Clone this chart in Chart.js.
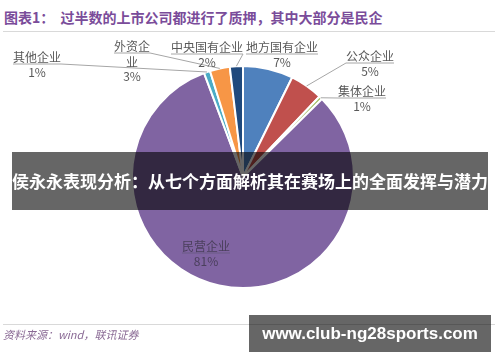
<!DOCTYPE html>
<html>
<head>
<meta charset="utf-8">
<script src="https://cdn.jsdelivr.net/npm/chart.js@4.4.1/dist/chart.umd.min.js"></script>
<style>
  body { margin:0; background:#fff; font-family:"Noto Sans CJK SC", sans-serif; }
  #wrap { position:relative; width:500px; height:362px; overflow:hidden; background:#fff; }
  #pie { position:absolute; left:0; top:0; }
  .title { position:absolute; left:4px; top:7px; font-size:14px; font-weight:bold; color:#7a4c9a; white-space:nowrap; }
  .rule { position:absolute; left:3px; width:492px; height:1px; background:#d9d9d9; }
  .source { position:absolute; left:3px; top:326px; font-size:11px; font-style:italic; color:#8a6a95; }
  .banner { position:absolute; left:12px; top:152px; width:476px; height:58px; background:rgba(0,0,0,0.6);
            color:#fff; font-size:17px; font-weight:bold; line-height:58px; text-align:center; white-space:nowrap; }
  .mark { position:absolute; left:249px; top:315px; width:242px; height:37px; background:rgba(0,0,0,0.6);
          color:#fff; font-family:"Liberation Sans", sans-serif; font-size:17px; font-weight:bold; line-height:37px; text-align:center; }
</style>
</head>
<body>
<div id="wrap">
  <div class="title">图表1：&nbsp;&nbsp;过半数的上市公司都进行了质押，其中大部分是民企</div>
  <div class="rule" style="top:31px"></div>
  <canvas id="pie" width="500" height="362"></canvas>
  <div class="rule" style="top:324px"></div>
  <div class="source">资料来源：wind，联讯证券</div>
  <div class="banner">侯永永表现分析：从七个方面解析其在赛场上的全面发挥与潜力</div>
  <div class="mark">www.club-ng28sports.com</div>
</div>
<script>
// clockwise from 12 o'clock
const categories = ['地方国有企业', '公众企业', '集体企业', '民营企业', '其他企业', '外资企业', '中央国有企业'];
const shares = [7.3, 4.8, 0.5, 81.7, 0.9, 2.9, 1.9];
const shareLabels = ['7%', '5%', '1%', '81%', '1%', '3%', '2%'];
const sliceColors = ['#4F81BD', '#C0504D', '#9BBB59', '#8064A2', '#4BACC6', '#F79646', '#1F497D'];

// label placement (text centre), wrap = chars per line, lead = which underline end gets the leader
const labelLayout = [
  {x: 282, y: 47, lead: null},
  {x: 370, y: 56, lead: 'left'},
  {x: 362, y: 91, lead: 'left'},
  {x: 206, y: 246, lead: null, inside: true},
  {x: 37,  y: 57, lead: 'right'},
  {x: 132, y: 46, lead: 'right', wrap: 3},
  {x: 207, y: 47, lead: 'right'}
];

const pieLabels = {
  id: 'pieLabels',
  afterDatasetsDraw(chart) {
    const ctx = chart.ctx;
    const arcs = chart.getDatasetMeta(0).data;
    ctx.save();
    ctx.font = '12px "Noto Sans CJK SC", sans-serif';
    ctx.textAlign = 'center';
    ctx.textBaseline = 'middle';
    arcs.forEach((arc, i) => {
      const L = labelLayout[i];
      const name = categories[i];
      const lines = L.wrap ? [name.slice(0, L.wrap), name.slice(L.wrap)] : [name];
      ctx.fillStyle = L.inside ? '#4a3f5c' : '#595959';
      lines.forEach((t, k) => ctx.fillText(t, L.x, L.y + k * 16));
      ctx.fillText(shareLabels[i], L.x, L.y + lines.length * 15);

      const w = ctx.measureText(lines[0]).width;
      const uy = L.y + 7;
      const ux0 = L.x - w / 2, ux1 = L.x + w / 2;
      ctx.strokeStyle = L.inside ? '#6b5a85' : '#a6a6a6';
      ctx.lineWidth = 1;
      ctx.beginPath();
      ctx.moveTo(ux0, uy);
      ctx.lineTo(ux1, uy);
      if (L.lead) {
        const p = arc.getProps(['x', 'y', 'startAngle', 'endAngle', 'outerRadius'], true);
        const mid = (p.startAngle + p.endAngle) / 2;
        const ax = p.x + Math.cos(mid) * p.outerRadius;
        const ay = p.y + Math.sin(mid) * p.outerRadius;
        const sx = L.lead === 'left' ? ux0 : ux1;
        ctx.moveTo(sx, uy);
        ctx.lineTo(ax, ay);
      }
      ctx.stroke();
    });
    ctx.restore();
  }
};

new Chart(document.getElementById('pie'), {
  type: 'pie',
  data: {
    labels: categories,
    datasets: [{
      data: shares,
      backgroundColor: sliceColors,
      borderColor: '#ffffff',
      borderWidth: 2
    }]
  },
  options: {
    responsive: false,
    animation: false,
    layout: {padding: {left: 131, right: 145, top: 65, bottom: 73}},
    plugins: {legend: {display: false}, tooltip: {enabled: false}}
  },
  plugins: [pieLabels]
});
</script>
</body>
</html>
